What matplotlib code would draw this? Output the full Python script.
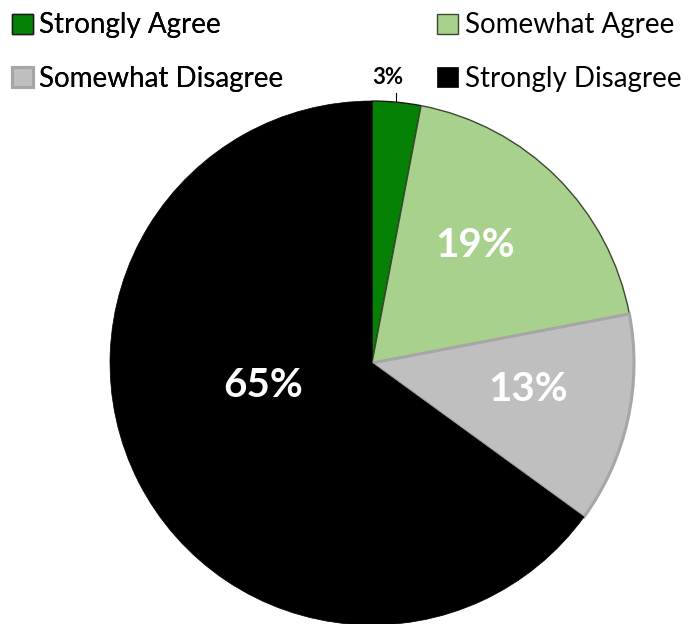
import matplotlib.pyplot as plt

plt.rcParams['font.family'] = ['Lato', 'DejaVu Sans']

labels = ["Strongly Agree", "Somewhat Agree", "Somewhat Disagree", "Strongly Disagree"]
values = [3, 19, 13, 65]
colors = ["#058205", "#a9d18e", "#bfbfbf", "#000000"]
edge_colors = ["#1a1a1a", "#3a4a30", "#a6a6a6", "#000000"]
edge_widths = [1.0, 1.0, 2.2, 0.5]
pct_text = ["3%", "19%", "13%", "65%"]

fig = plt.figure(figsize=(6.88, 6.24), dpi=100)
ax = fig.add_axes([0.1599, -0.0016, 0.7616, 0.8397])

wedges, _ = ax.pie(values, colors=colors, startangle=90, counterclock=False,
                   radius=1.0)
for w, ec, lw in zip(wedges, edge_colors, edge_widths):
    w.set_edgecolor(ec)
    w.set_linewidth(lw)
ax.set_xlim(-1, 1)
ax.set_ylim(-1, 1)
ax.set_aspect("equal")
ax.axis("off")

# data labels
label_pos = [(0.061, 1.09), (0.395, 0.45), (0.595, -0.10), (-0.415, -0.085)]
for i, (txt, (x, y)) in enumerate(zip(pct_text, label_pos)):
    if i == 0:
        ax.text(x, y, txt, ha="center", va="center", fontsize=16,
                fontweight="bold", color="black", clip_on=False)
    else:
        ax.text(x, y, txt, ha="center", va="center", fontsize=29,
                fontweight="bold", color="white")
# small leader line for 3%
ax.plot([0.09, 0.09], [1.0, 1.03], color="black", lw=0.8, clip_on=False)

# legend in two columns, row order
leg_kw = dict(loc="upper left", frameon=False, fontsize=20,
              handlelength=0.75, handleheight=0.75, handletextpad=0.25,
              labelspacing=0.98, borderpad=0, borderaxespad=0)
leg1 = fig.legend([wedges[0], wedges[2]], [labels[0], labels[2]],
                  bbox_to_anchor=(0.017, 0.98), **leg_kw)
fig.add_artist(leg1)
fig.legend([wedges[1], wedges[3]], [labels[1], labels[3]],
           bbox_to_anchor=(0.635, 0.98), **leg_kw)

fig.savefig("out.png", dpi=100)
